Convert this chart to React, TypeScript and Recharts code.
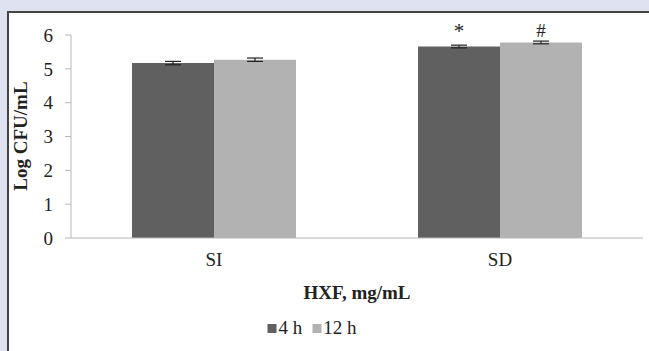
import { BarChart, Bar, XAxis, YAxis, ErrorBar, LabelList } from 'recharts'

const CATEGORIES = ['SI', 'SD']
const H4 = [5.17, 5.66]
const H12 = [5.27, 5.78]
const H4_ERR = [0.05, 0.04]
const H12_ERR = [0.05, 0.04]
const H4_MARK = ['', '*']
const H12_MARK = ['', '#']
const Y_TICKS = [0, 1, 2, 3, 4, 5, 6]
const SERIES_NAMES = ['4 h', '12 h']

const data = CATEGORIES.map((c, i) => ({
  cat: c,
  h4: H4[i],
  h12: H12[i],
  e4: H4_ERR[i],
  e12: H12_ERR[i],
  m4: H4_MARK[i],
  m12: H12_MARK[i],
}))

const FONT = '"Liberation Serif", "Times New Roman", serif'
const DARK = '#606060'
const LIGHT = '#b2b2b2'
const AXIS = '#b8b8b8'
const SERIES_COLORS = [DARK, LIGHT]

export default function App() {
  return (
    <div style={{ position: 'absolute', left: 0, top: 0, width: 649, height: 351, background: '#dfe3f1', overflow: 'hidden' }}>
      <div
        style={{
          position: 'absolute',
          left: 7,
          top: 11,
          width: 650,
          height: 350,
          background: '#fff',
          borderTop: '2px solid #444',
          borderLeft: '2px solid #444',
        }}
      />
      <div style={{ position: 'absolute', left: 0, top: 0 }}>
        <BarChart
          width={649}
          height={351}
          data={data}
          barGap={0}
          margin={{ top: 35, right: 6, bottom: 83, left: 0 }}
        >
          <XAxis
            dataKey="cat"
            height={30}
            tick={{ fill: '#222', fontSize: 19, fontFamily: FONT }}
            tickLine={false}
            tickSize={0}
            tickMargin={15}
            axisLine={{ stroke: AXIS }}
          />
          <YAxis
            domain={[0, 6]}
            ticks={Y_TICKS}
            interval={0}
            width={71}
            tick={{ fill: '#222', fontSize: 19, fontFamily: FONT }}
            tickSize={6}
            tickMargin={12}
            tickLine={{ stroke: AXIS }}
            axisLine={{ stroke: AXIS }}
          />
          <Bar dataKey="h4" name={SERIES_NAMES[0]} fill={DARK} barSize={82} isAnimationActive={false}>
            <ErrorBar dataKey="e4" width={8} stroke="#222" strokeWidth={1.2} direction="y" />
            <LabelList dataKey="m4" position="top" offset={9} style={{ fill: '#222', fontSize: 21, fontFamily: FONT }} />
          </Bar>
          <Bar dataKey="h12" name={SERIES_NAMES[1]} fill={LIGHT} barSize={82} isAnimationActive={false}>
            <ErrorBar dataKey="e12" width={8} stroke="#222" strokeWidth={1.2} direction="y" />
            <LabelList dataKey="m12" position="top" offset={5} style={{ fill: '#222', fontSize: 19, fontFamily: FONT }} />
          </Bar>
        </BarChart>
      </div>
      <div
        style={{
          position: 'absolute',
          left: 21,
          top: 136,
          transform: 'translate(-50%, -50%) rotate(-90deg)',
          whiteSpace: 'nowrap',
          fontFamily: FONT,
          fontWeight: 'bold',
          fontSize: 19,
          color: '#222',
        }}
      >
        Log CFU/mL
      </div>
      <div
        style={{
          position: 'absolute',
          left: 357,
          top: 293,
          transform: 'translate(-50%, -50%)',
          whiteSpace: 'nowrap',
          fontFamily: FONT,
          fontWeight: 'bold',
          fontSize: 19,
          color: '#222',
        }}
      >
        HXF, mg/mL
      </div>
      <div
        style={{
          position: 'absolute',
          left: 312,
          top: 328,
          transform: 'translate(-50%, -50%)',
          display: 'flex',
          alignItems: 'center',
          whiteSpace: 'nowrap',
          fontFamily: FONT,
          fontSize: 19,
          color: '#222',
        }}
      >
        {SERIES_NAMES.map((name, i) => (
          <span key={name} style={{ display: 'inline-flex', alignItems: 'center', marginLeft: i ? 10 : 0 }}>
            <span style={{ width: 9, height: 9, background: SERIES_COLORS[i], display: 'inline-block', marginRight: 2 }} />
            {name}
          </span>
        ))}
      </div>
    </div>
  )
}
